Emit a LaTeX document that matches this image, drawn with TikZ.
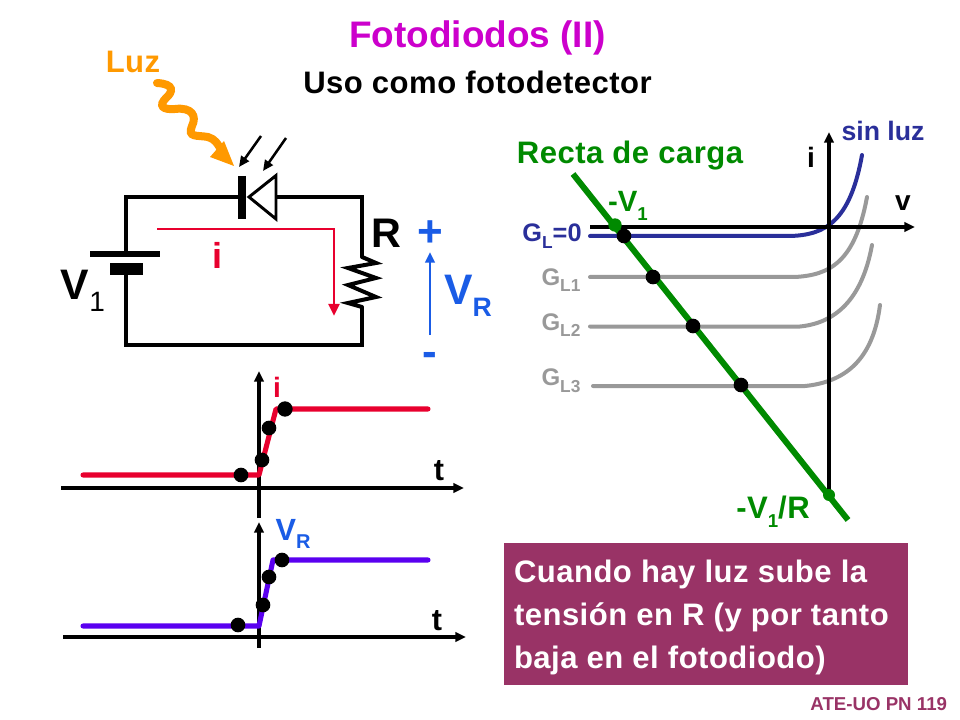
\documentclass[tikz,border=0pt]{standalone}
\usepackage{fontspec}
\setmainfont{Liberation Sans}[BoldFont={Liberation Sans Bold}]
\definecolor{magT}{HTML}{CC00CC}
\definecolor{orangeL}{HTML}{FF9900}
\definecolor{redI}{HTML}{E8002E}
\definecolor{blueV}{HTML}{1A5CE6}
\definecolor{greenR}{HTML}{008A00}
\definecolor{navyC}{HTML}{2A2F9A}
\definecolor{greyC}{HTML}{999999}
\definecolor{violetV}{HTML}{5A00F0}
\definecolor{boxC}{HTML}{993366}
\newcommand{\fpx}[1]{\fontsize{#1}{#1}\selectfont\bfseries}
\newcommand{\fls}[1]{\fontsize{#1}{#1}\selectfont\bfseries\addfontfeature{LetterSpace=1.5}}
\newcommand{\sbx}[2]{\raisebox{-0.28em}{\fontsize{#1}{#1}\selectfont #2}}
\usetikzlibrary{arrows.meta}
\tikzset{
  lbl/.style={inner sep=0pt,outer sep=0pt,anchor=center},
  wire/.style={line width=3pt,line join=miter,line cap=round,black},
  dotb/.style={circle,fill=black,inner sep=0pt,minimum size=11pt,draw=none},
  dotg/.style={circle,fill=greenR,inner sep=0pt,minimum size=10pt,draw=none},
  axisl/.style={line width=2.5pt,black,-{Triangle[length=8pt,width=7pt]}},
  trace/.style={line width=3.8pt,line cap=round,line join=round},
  curve/.style={line width=3pt,line cap=round},
}
\begin{document}
\begin{tikzpicture}[x=0.75pt,y=-0.75pt]
\useasboundingbox (0,0) rectangle (960,720);
\fill[white] (0,0) rectangle (960,720);
% titles
\node[lbl,text=magT,font=\fpx{27.7}] (title) at (477.5,38) {Fotodiodos (II)};
\node[lbl,font=\fls{23.3}] (sub) at (477.5,82) {Uso como fotodetector};
\node[lbl,text=orangeL,font=\fls{23.3}] (luz) at (133,62) {Luz};
% circuit coordinates
\coordinate (tl) at (126,197); \coordinate (tr) at (362,197);
\coordinate (bl) at (126,345); \coordinate (br) at (362,345);
\coordinate (batU) at (126,254); \coordinate (batD) at (126,269);
\coordinate (diA) at (242,197); \coordinate (diK) at (276,197);
\coordinate (rT) at (362,257); \coordinate (rB) at (362,307);
\draw[wire] (diA) -- (tl) -- (batU);
\draw[wire] (batD) -- (bl) -- (br) -- (rB);
\draw[wire] (rT) -- (tr) -- (diK);
\draw[line width=3pt,line join=miter] (rT) -- (376,263) -- (348,268) -- (376,278) -- (348,285) -- (376,297) -- (348,303) -- (rB);
\draw[line width=3.8pt] (90,254) -- (160,254);
\draw[line width=8.5pt] (110,269) -- (143,269);
\draw[line width=5.6pt] (242,176) -- (242,219);
\draw[line width=2.2pt,line join=miter,fill=white] (249,197) -- (276,175.5) -- (276,219) -- cycle;
% photons
\coordinate (p1a) at (261,136); \coordinate (p1b) at (239,167);
\coordinate (p2a) at (286,138); \coordinate (p2b) at (263,171);
\draw[line width=1.9pt,-{Triangle[length=8pt,width=7pt]}] (p1a) -- (p1b);
\draw[line width=1.9pt,-{Triangle[length=8pt,width=7pt]}] (p2a) -- (p2b);
% orange wave
\draw[line width=6pt,orangeL,line cap=round] (157,83) .. controls (175,84) and (173,92) .. (166,98)
  .. controls (158,106) and (163,110) .. (175,109)
  .. controls (192,107) and (197,116) .. (192,126)
  .. controls (187,138) and (197,135) .. (208,137)
  .. controls (215,139) and (218,144) .. (221,150);
\fill[orangeL] (234,166) -- (210,157) -- (224,141) -- cycle;
% current
\coordinate (i0) at (157,229); \coordinate (i1) at (334,229); \coordinate (i2) at (334,316);
\draw[line width=2.2pt,redI,-{Triangle[length=9pt,width=8pt]}] (i0) -- (i1) -- (i2);
\node[lbl,text=redI,font=\fpx{27}] (ilab) at (217.5,255) {i};
% circuit labels
\node[lbl,font=\fpx{32}] (v1) at (83,291) {V\sbx{21}{\mdseries 1}};
\node[lbl,font=\fpx{31}] (R) at (386,233) {R};
\node[lbl,text=blueV,font=\fpx{33}] (plus) at (430,234) {+};
\node[lbl,text=blueV,font=\fpx{33}] (minus) at (430,359) {-};
\node[lbl,text=blueV,font=\fpx{32}] (vr) at (468,296) {V\sbx{20}{R}};
\draw[line width=2.2pt,blueV,-{Triangle[length=8pt,width=7pt]}] (430,335) -- (430,252);
% i-v plot
\node[lbl,text=greenR,font=\fls{23.3}] (recta) at (630,156) {Recta de carga};
\node[lbl,text=navyC,font=\fpx{20}] (sinluz) at (883,131) {sin luz};
\node[lbl,font=\fpx{21}] (iv) at (811,157) {i};
\node[lbl,font=\fpx{21}] (vv) at (903,203) {v};
\node[lbl,text=greenR,font=\fpx{22}] (mv1) at (628,206) {-V\sbx{14}{1}};
\node[lbl,text=greenR,font=\fls{23.3}] (mv1r) at (773,512) {-V\sbx{14}{1}/R};
\node[lbl,text=navyC,font=\fpx{19}] (gl0) at (552,236) {G\sbx{13}{L}=0};
\node[lbl,text=greyC,font=\fpx{18}] (gl1) at (561,280) {G\sbx{13}{L1}};
\node[lbl,text=greyC,font=\fpx{18}] (gl2) at (561,325) {G\sbx{13}{L2}};
\node[lbl,text=greyC,font=\fpx{18}] (gl3) at (561,381) {G\sbx{13}{L3}};
\draw[curve,greyC] (590,277) -- (795,277) .. controls (830,275) and (855,262) .. (867,197);
\draw[curve,greyC] (590,326.5) -- (800,326.5) .. controls (835,323) and (862,300) .. (872,245);
\draw[curve,greyC] (593,386) -- (805,386) .. controls (845,382) and (873,360) .. (880,305);
\draw[curve,navyC] (590,236) -- (790,236) .. controls (825,235) and (850,222) .. (862,155);
\coordinate (vaxL) at (590,227); \coordinate (vaxR) at (915,227);
\coordinate (iaxB) at (829,500); \coordinate (iaxT) at (829,132);
\draw[axisl] (vaxL) -- (vaxR);
\draw[axisl] (iaxB) -- (iaxT);
\coordinate (lineA) at (573,174); \coordinate (lineB) at (848,520);
\draw[line width=4.5pt,greenR] (lineA) -- (lineB);
\node[dotg] (gdot1) at (615,225) {};
\node[dotg,minimum size=9pt] (gdot2) at (829,495) {};
\node[dotb] (q0) at (624,236) {};
\node[dotb] (q1) at (653,277) {};
\node[dotb] (q2) at (693,326) {};
\node[dotb] (q3) at (741,385) {};
% i(t)
\coordinate (a1L) at (61,488); \coordinate (a1R) at (464,488);
\coordinate (a1B) at (259,518); \coordinate (a1T) at (259,371);
\draw[axisl] (a1L) -- (a1R);
\draw[axisl] (a1B) -- (a1T);
\draw[trace,redI] (83,475) -- (259,475) -- (276,409) -- (428,409);
\node[dotb] (d11) at (241,475) {};
\node[dotb] (d12) at (262,460) {};
\node[dotb] (d13) at (269,428) {};
\node[dotb,minimum size=11.5pt] (d14) at (285,409) {};
\node[lbl,text=redI,font=\fpx{21}] (il2) at (277,387) {i};
\node[lbl,font=\fpx{23}] (t1) at (439,471) {t};
% vr(t)
\coordinate (a2L) at (63,637); \coordinate (a2R) at (466,637);
\coordinate (a2B) at (259,648); \coordinate (a2T) at (259,522);
\draw[axisl] (a2L) -- (a2R);
\draw[axisl] (a2B) -- (a2T);
\draw[trace,violetV] (83,626) -- (259,626) -- (273,560) -- (428,560);
\node[dotb] (d21) at (238,625) {};
\node[dotb] (d22) at (263,605) {};
\node[dotb] (d23) at (269,577) {};
\node[dotb] (d24) at (282,560) {};
\node[lbl,text=blueV,font=\fpx{23}] (vr2) at (293,534) {V\sbx{15}{R}};
\node[lbl,font=\fpx{23}] (t2) at (437,621) {t};
% box
\node[fill=boxC,draw=none,inner sep=0pt,outer sep=0pt,minimum width=303pt,minimum height=106.5pt] (box) at (706,614) {};
\node[lbl,anchor=west,text=white,font=\fls{23.3}] (l1) at (514,574) {Cuando hay luz sube la};
\node[lbl,anchor=west,text=white,font=\fls{23.3}] (l2) at (514,617) {tensión en R (y por tanto};
\node[lbl,anchor=west,text=white,font=\fls{23.3}] (l3) at (514,660) {baja en el fotodiodo)};
\node[lbl,anchor=east,text=boxC,font=\fpx{14}] (foot) at (947,704) {ATE-UO PN 119};
\end{tikzpicture}
\end{document}
